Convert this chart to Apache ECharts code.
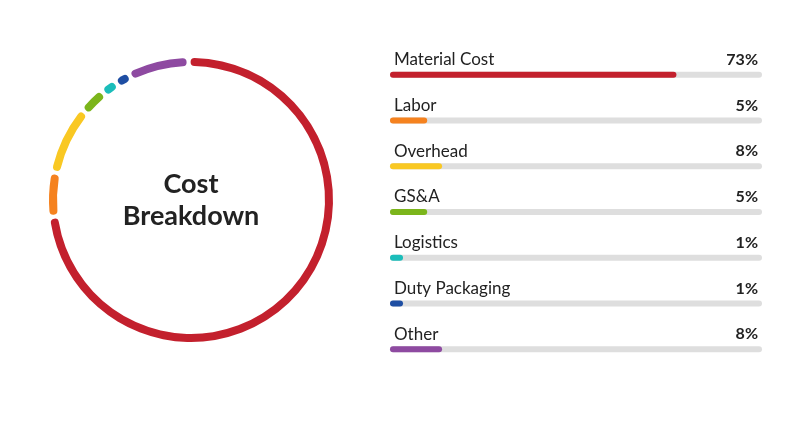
<!DOCTYPE html>
<html>
<head>
<meta charset="utf-8">
<script src="https://cdn.jsdelivr.net/npm/echarts@6/dist/echarts.min.js"></script>
<style>
html,body{margin:0;padding:0;background:#fff;}
#c{width:802px;height:446px;}
</style>
</head>
<body>
<div id="c"></div>
<script>
// Data
var categories = ['Material Cost', 'Labor', 'Overhead', 'GS&A', 'Logistics', 'Duty Packaging', 'Other'];
var percentLabels = [73, 5, 8, 5, 1, 1, 8];
// ring segment shares (percent of circle)
var ringShares = [73.35, 5.1, 7.85, 3.07, 1.87, 1.76, 7.0];
// bar fill lengths (percent of track)
var barFill = [77, 10, 14, 10, 3.5, 3.5, 14];
var colors = ['#C3202D', '#F5821F', '#F9C823', '#7BB51B', '#1BBDBA', '#1E4EA3', '#8E4AA1'];

var chart = echarts.init(document.getElementById('c'), null, {renderer: 'canvas'});

var pieData = categories.map(function (c, i) {
  return {name: c, value: ringShares[i], itemStyle: {color: colors[i]}};
});
var fillData = categories.map(function (c, i) {
  return {value: barFill[i], itemStyle: {color: colors[i]}};
});
var fullData = categories.map(function () { return 100; });

chart.setOption({
  animation: false,
  graphic: [{
    type: 'text',
    z: 10,
    style: {
      text: 'Cost\nBreakdown',
      x: 191, y: 200,
      textAlign: 'center',
      textVerticalAlign: 'middle',
      font: 'bold 27px Lato',
      lineHeight: 32,
      fill: '#222'
    }
  }],
  grid: {left: 390, right: 40, top: 52, bottom: 74},
  xAxis: {type: 'value', min: 0, max: 100, show: false},
  yAxis: {type: 'category', data: categories, inverse: true, show: false},
  series: [
    {
      type: 'pie',
      startAngle: 91,
      clockwise: true,
      center: [191, 200],
      radius: [134, 142],
      padAngle: 1.65,
      itemStyle: {borderRadius: 4},
      label: {show: false},
      labelLine: {show: false},
      silent: true,
      data: pieData
    },
    {
      type: 'bar',
      data: fillData,
      barWidth: 6,
      showBackground: true,
      backgroundStyle: {color: '#dedede', borderRadius: 3},
      itemStyle: {borderRadius: 3},
      label: {
        show: true,
        formatter: '{b}',
        position: [4, -12],
        verticalAlign: 'middle',
        align: 'left',
        color: '#222',
        fontFamily: 'Lato',
        fontSize: 17
      },
      z: 3
    },
    {
      type: 'bar',
      data: fullData,
      barWidth: 6,
      barGap: '-100%',
      itemStyle: {color: 'rgba(0,0,0,0)'},
      label: {
        show: true,
        formatter: function (p) { return percentLabels[p.dataIndex] + '%'; },
        position: ['100%', -12],
        offset: [-4, 0],
        verticalAlign: 'middle',
        align: 'right',
        color: '#222',
        fontFamily: 'Lato',
        fontWeight: 'bold',
        fontSize: 16
      },
      z: 2
    }
  ]
});
</script>
</body>
</html>
